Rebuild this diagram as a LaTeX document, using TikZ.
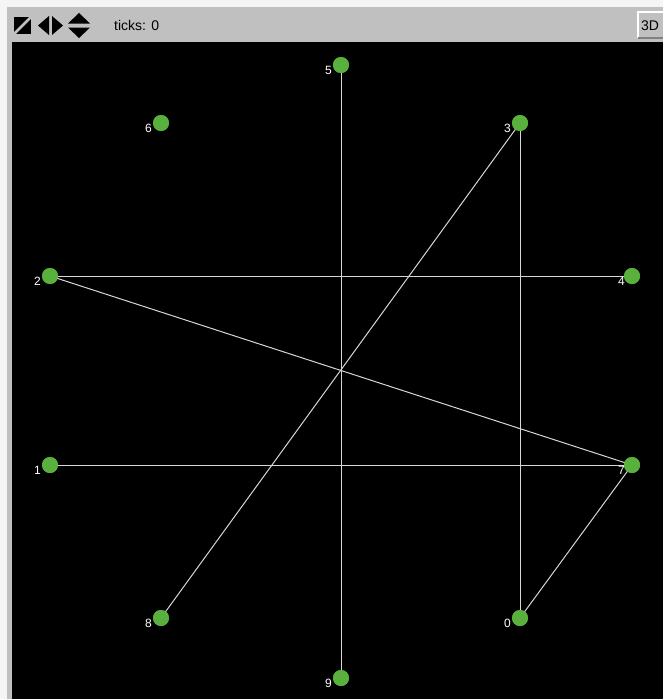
\documentclass[tikz,border=0pt]{standalone}
\usepackage{fontspec}
\setmainfont{Liberation Sans}
\begin{document}
\begin{tikzpicture}[x=1pt,y=-1pt,
  vtx/.style={circle,fill=nlgreen,draw=none,minimum size=16pt,inner sep=0pt},
  lbl/.style={text=white,font=\fontsize{12}{12}\selectfont,inner sep=0pt,anchor=east},
  edge/.style={draw=linegray,line width=1pt}]
\definecolor{nlgreen}{RGB}{89,176,60}
\definecolor{linegray}{RGB}{215,215,215}
\definecolor{bargray}{RGB}{192,192,192}
\useasboundingbox (0,0) rectangle (663,699);
\fill[white!92!gray] (0,0) rectangle (663,699);
\fill[bargray] (7,7) rectangle (663,699);
\fill[black] (12,42) rectangle (663,699);
% toolbar icons
\fill[black] (14,17) rectangle (31,34);
\draw[bargray,line width=2.5pt] (14,34) -- (31,17);
\fill[black] (38,25.5) -- (49,16) -- (49,35) -- cycle;
\fill[black] (63,25.5) -- (52,16) -- (52,35) -- cycle;
\fill[black] (68,23.5) -- (79,13) -- (90,23.5) -- cycle;
\fill[black] (68,27.5) -- (79,38) -- (90,27.5) -- cycle;
\node[anchor=west,font=\fontsize{14}{14}\selectfont,inner sep=0pt] (ticks) at (114,25) {ticks: 0};
\draw[white,line width=1.2pt] (638,38) -- (638,12) -- (663,12);
\draw[gray,line width=1.2pt] (638,38) -- (663,38);
\node[anchor=west,font=\fontsize{14}{14}\selectfont,inner sep=0pt] (btn) at (641,26) {3D};
% vertices
\node[vtx] (n5) at (341,65) {};
\node[vtx] (n6) at (161,123) {};
\node[vtx] (n3) at (520,123) {};
\node[vtx] (n2) at (50,276) {};
\node[vtx] (n4) at (632,276) {};
\node[vtx] (n1) at (50,465) {};
\node[vtx] (n7) at (632,465) {};
\node[vtx] (n8) at (161,618) {};
\node[vtx] (n0) at (520,618) {};
\node[vtx] (n9) at (341,678) {};
% edges
\draw[edge] (n5.center) -- (n9.center);
\draw[edge] (n3.center) -- (n0.center);
\draw[edge] (n3.center) -- (n8.center);
\draw[edge] (n2.center) -- (n4.center);
\draw[edge] (n2.center) -- (n7.center);
\draw[edge] (n1.center) -- (n7.center);
\draw[edge] (n7.center) -- (n0.center);
% redraw vertices on top
\foreach \p in {(341,65),(161,123),(520,123),(50,276),(632,276),(50,465),(632,465),(161,618),(520,618),(341,678)}
  \fill[nlgreen] \p circle (8);
% labels
\node[lbl] (l5) at (332,70) {5};
\node[lbl] (l6) at (152,128) {6};
\node[lbl] (l3) at (511,128) {3};
\node[lbl] (l2) at (41,281) {2};
\node[lbl] (l4) at (625,281) {4};
\node[lbl] (l1) at (41,470) {1};
\node[lbl] (l7) at (625,470) {7};
\node[lbl] (l8) at (152,623) {8};
\node[lbl] (l0) at (511,623) {0};
\node[lbl] (l9) at (332,683) {9};
\end{tikzpicture}
\end{document}
